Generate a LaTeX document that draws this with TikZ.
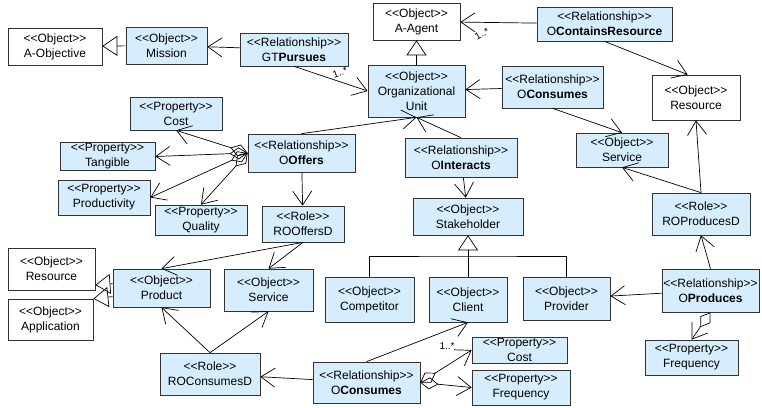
\documentclass[tikz,border=0pt]{standalone}
\usepackage{fontspec}
\setmainfont{Liberation Sans}
\usepackage{xcolor}
\usepackage{tikz}
\usetikzlibrary{arrows.meta}
\definecolor{umlblue}{RGB}{213,237,252}
\newcommand{\ster}[1]{<\kern0pt<#1>\kern0pt>}

\begin{document}
\begin{tikzpicture}[x=1pt,y=-1pt,
    every node/.style={font=\fontsize{12}{15}\selectfont},
    box/.style={draw=black!80, line width=0.7pt, fill=umlblue, align=center, inner sep=1pt},
    ext/.style={box, fill=white},
    lab/.style={font=\fontsize{10}{12}\selectfont, inner sep=1pt},
    rel/.style={line width=0.7pt, -{Straight Barb[length=14pt,width=19pt]}},
    gen/.style={line width=0.7pt, -{Triangle[open,length=15pt,width=20pt]}},
    agg/.style={line width=0.7pt, {Diamond[open,length=18pt,width=12pt]}-{Straight Barb[length=14pt,width=19pt]}}]
    \useasboundingbox (0,0) rectangle (762,407);

    \node[ext, minimum width=94pt, minimum height=37pt] (aobj) at (55,46.5) {\ster{Object}\\A-Objective};
    \node[box, minimum width=81pt, minimum height=37pt] (mission) at (166.5,45.5) {\ster{Object}\\Mission};
    \node[box, minimum width=108pt, minimum height=33pt] (gtpursues) at (294,49.5) {\ster{Relationship}\\GT\textbf{Pursues}};
    \node[ext, minimum width=87pt, minimum height=37pt] (aagent) at (416.5,21.5) {\ster{Object}\\A-Agent};
    \node[box, minimum width=135pt, minimum height=34pt] (ocontains) at (604.5,24) {\ster{Relationship}\\O\textbf{ContainsResource}};
    \node[box, minimum width=97pt, minimum height=52pt] (orgunit) at (416.5,91) {\ster{Object}\\Organizational\\Unit};
    \node[box, minimum width=101pt, minimum height=42pt] (oconsumesT) at (552.5,87) {\ster{Relationship}\\O\textbf{Consumes}};
    \node[ext, minimum width=88pt, minimum height=45pt] (resR) at (696,97.5) {\ster{Object}\\Resource};

    \node[box, minimum width=92pt, minimum height=33pt] (costA) at (176,113.5) {\ster{Property}\\Cost};
    \node[box, minimum width=95pt, minimum height=27pt] (tangible) at (107.5,156.5) {\ster{Property}\\Tangible};
    \node[box, minimum width=92pt, minimum height=35pt] (productivity) at (104,197.5) {\ster{Property}\\Productivity};
    \node[box, minimum width=92pt, minimum height=30pt] (quality) at (201,220) {\ster{Property}\\Quality};
    \node[box, minimum width=107pt, minimum height=38pt] (ooffers) at (301.5,153) {\ster{Relationship}\\O\textbf{Offers}};
    \node[box, minimum width=82pt, minimum height=36pt] (roofferd) at (303,224) {\ster{Role}\\ROOffersD};
    \node[box, minimum width=112pt, minimum height=39pt] (ointeracts) at (461,157.5) {\ster{Relationship}\\O\textbf{Interacts}};
    \node[box, minimum width=110pt, minimum height=37pt] (stakeholder) at (468,216.5) {\ster{Object}\\Stakeholder};
    \node[box, minimum width=92pt, minimum height=34pt] (serviceR) at (622,150) {\ster{Object}\\Service};
    \node[box, minimum width=98pt, minimum height=42pt] (roproducesd) at (701,214) {\ster{Role}\\ROProducesD};

    \node[ext, minimum width=87pt, minimum height=42pt] (resL) at (51.5,269) {\ster{Object}\\Resource};
    \node[ext, minimum width=85pt, minimum height=41pt] (application) at (50.5,319.5) {\ster{Object}\\Application};
    \node[box, minimum width=97pt, minimum height=38pt] (product) at (161.5,288) {\ster{Object}\\Product};
    \node[box, minimum width=89pt, minimum height=42pt] (serviceM) at (268.5,290) {\ster{Object}\\Service};
    \node[box, minimum width=89pt, minimum height=45pt] (competitor) at (369.5,299.5) {\ster{Object}\\Competitor};
    \node[box, minimum width=78pt, minimum height=45pt] (client) at (468,299.5) {\ster{Object}\\Client};
    \node[box, minimum width=87pt, minimum height=43pt] (provider) at (566.5,298.5) {\ster{Object}\\Provider};
    \node[box, minimum width=97pt, minimum height=43pt] (oproduces) at (710.5,290.5) {\ster{Relationship}\\O\textbf{Produces}};
    \node[box, minimum width=93pt, minimum height=35pt] (freqR) at (691.5,357.5) {\ster{Property}\\Frequency};
    \node[box, minimum width=100pt, minimum height=42pt] (roconsumesd) at (210,374) {\ster{Role}\\ROConsumesD};
    \node[box, minimum width=107pt, minimum height=41pt] (oconsumesB) at (366.5,382.5) {\ster{Relationship}\\O\textbf{Consumes}};
    \node[box, minimum width=95pt, minimum height=26pt] (costB) at (519.5,350) {\ster{Property}\\Cost};
    \node[box, minimum width=98pt, minimum height=35pt] (freqB) at (521,387.5) {\ster{Property}\\Frequency};

    \draw[gen] (mission) -- (aobj);
    \draw[rel] (gtpursues) -- (mission);
    \draw[rel] (gtpursues.south) -- (orgunit.west);
    \node[lab, rotate=20] (multA) at (340,73) {1..*};
    \draw[gen] (orgunit) -- (aagent);
    \draw[rel] (ocontains) -- (aagent);
    \node[lab, rotate=30] (multB) at (482,34) {1..*};
    \draw[rel] (ocontains.south) -- (resR.110);
    \draw[rel] (oconsumesT) -- (orgunit);
    \draw[rel] (oconsumesT.south) -- (serviceR.north);
    \draw[rel] (ooffers.north) -- (orgunit.south);
    \draw[rel] (ointeracts.north) -- (orgunit.south);
    \draw[rel] (ointeracts) -- (stakeholder);

    \draw[agg] (ooffers.west) -- (costA.south);
    \draw[agg] (ooffers.west) -- (tangible.east);
    \draw[agg] (ooffers.west) -- (productivity.east);
    \draw[agg] (ooffers.west) -- (quality.north);
    \draw[rel] (ooffers) -- (roofferd);
    \draw[rel] (roofferd.south) -- (product.north);
    \draw[rel] (roofferd.south) -- (serviceM.north);

    \draw[gen] (product.175) -- (resL.-20);
    \draw[gen] (product.190) -- (application.north east);
    \draw[rel] (roconsumesd.north) -- (product.south);
    \draw[rel] (roconsumesd.north) -- (serviceM.south);
    \draw[rel] (oconsumesB) -- (roconsumesd);
    \draw[rel] (oconsumesB.north) -- (client.south);
    \draw[agg] (oconsumesB.east) -- (costB.west);
    \node[lab] (multC) at (447,346) {1..*};
    \draw[agg] (oconsumesB.east) -- (freqB.west);

    \coordinate (split) at (468,256);
    \draw[line width=0.7pt] (competitor.north) |- (split) -| (provider.north);
    \draw[gen] (client.north) -- (stakeholder.south);

    \draw[rel] (oproduces) -- (provider);
    \draw[rel] (oproduces.north) -- (roproducesd.south);
    \draw[rel] (roproducesd.north) -- (serviceR.south);
    \draw[rel] (roproducesd.north) -- (resR.south);
    \draw[agg] (oproduces.south) -- (freqR.north);
\end{tikzpicture}
\end{document}
